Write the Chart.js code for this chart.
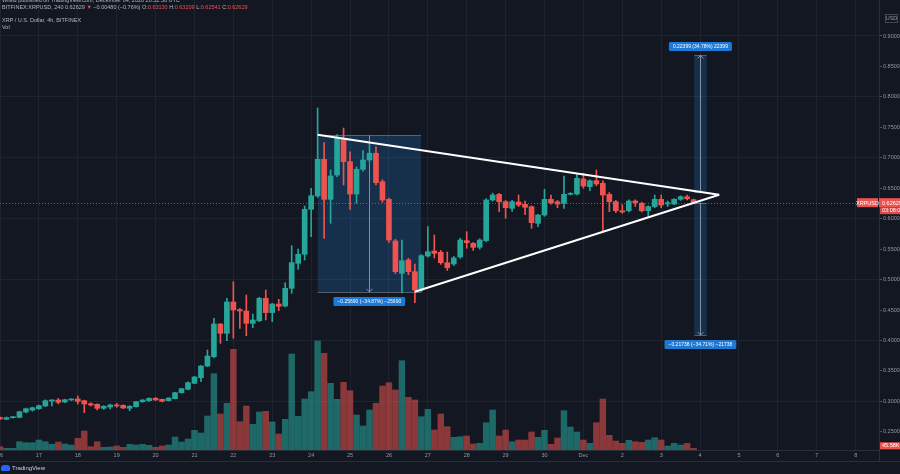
<!DOCTYPE html>
<html><head><meta charset="utf-8">
<script src="https://cdn.jsdelivr.net/npm/chart.js@4.4.0/dist/chart.umd.min.js"></script>
<style>
html,body{margin:0;padding:0;background:#131722;overflow:hidden}
#wrap{position:relative;width:900px;height:474px;background:#131722}
canvas{display:block}
.t{position:absolute;left:2px;font-family:"Liberation Sans",Arial,sans-serif;font-size:5.5px;color:#b2b5be;white-space:nowrap;line-height:1}
.r{color:#ef5350}
#logo{position:absolute;left:1px;top:465px;font-family:"Liberation Sans",Arial,sans-serif;font-size:6px;color:#d1d4dc;white-space:nowrap;line-height:1}
#logo i{display:inline-block;width:9px;height:6px;background:#2962ff;border-radius:3px 3px 1px 1px;vertical-align:-1px;margin-right:2px}
</style></head>
<body>
<div id="wrap">
<canvas id="c" width="900" height="474"></canvas>
<div class="t" style="top:-2px">Wilsid published on TradingView.com, December 04, 2020 20:52:56 UTC</div>
<div class="t" style="top:5px">BITFINEX:XRPUSD, 240 0.62629 <span class="r">▼</span> −0.00480 (−0.76%) O:<span class="r">0.63130</span> H:<span class="r">0.63209</span> L:<span class="r">0.62541</span> C:<span class="r">0.62629</span></div>
<div class="t" style="top:18px">XRP / U.S. Dollar, 4h, BITFINEX</div>
<div class="t" style="top:25px">Vol</div>
<div id="logo"><i></i>TradingView</div>
</div>
<script>
// ---- data (4h candles starting Nov 16 2020 00:00) ----
const dayLabels = ['16','17','18','19','20','21','22','23','24','25','26','27','28','29','30','Dec','2','3','4','5','6','7','8'];
const opens = [.2735,.2707,.2733,.2737,.2826,.2858,.2880,.2924,.3005,.3023,
.2990,.3023,.3040,.3012,.2962,.2952,.2887,.2908,.2941,.2936,
.2887,.2913,.2995,.3012,.3051,.3034,.3012,.3045,.3143,.3199,
.3297,.3389,.3581,.3734,.4271,.4118,.4632,.4506,.4484,.4282,
.4325,.4693,.4458,.4599,.4566,.4857,.5267,.5415,.6154,.6373,
.6975,.6318,.6717,.7320,.6936,.6405,.6811,.6964,.7074,.6608,
.6318,.5634,.5103,.5322,.5130,.4829,.5387,.5469,.5448,.5277,
.5256,.5371,.5639,.5596,.5530,.5640,.6307,.6400,.6279,.6170,
.6274,.6236,.6198,.5924,.6060,.6318,.6279,.6252,.6400,.6405,
.6652,.6526,.6624,.6581,.6400,.6279,.6131,.6131,.6290,.6252,
.6131,.6198,.6318,.6241,.6241,.6318,.6361,.6313];
const highs = [.2745,.2745,.2750,.2840,.2890,.2905,.2940,.3025,.3030,.3050,
.3035,.3045,.3089,.3020,.2978,.2960,.2930,.2957,.2969,.2945,
.2930,.3000,.3030,.3060,.3065,.3040,.3060,.3150,.3215,.3320,
.3410,.3590,.3844,.4364,.4280,.4693,.4966,.4529,.4747,.4435,
.4710,.4829,.4610,.4676,.4949,.5557,.5502,.6209,.6499,.7818,
.7248,.6800,.7380,.7489,.7100,.6850,.7117,.7264,.7182,.6640,
.6340,.5660,.5650,.5350,.5256,.5410,.5869,.5732,.5480,.5453,
.5380,.5680,.5787,.5610,.5670,.6330,.6420,.6417,.6300,.6300,
.6389,.6290,.6210,.6070,.6483,.6389,.6300,.6700,.6430,.6745,
.6745,.6640,.6800,.6620,.6430,.6300,.6230,.6310,.6310,.6270,
.6210,.6389,.6389,.6290,.6330,.6375,.6389,.63209];
const lows = [.2700,.2700,.2725,.2730,.2810,.2840,.2870,.2915,.2925,.2960,
.2980,.3015,.2957,.2815,.2925,.2859,.2870,.2875,.2903,.2880,
.2847,.2905,.2985,.3000,.3015,.2990,.3005,.3040,.3135,.3190,
.3290,.3324,.3570,.3720,.3954,.3997,.4036,.4200,.4079,.4210,
.4310,.4337,.4309,.4489,.4550,.4775,.5169,.5322,.5704,.6350,
.5678,.5924,.6690,.6553,.6154,.6253,.6780,.6940,.6553,.6270,
.5610,.5100,.4780,.5080,.4621,.4800,.5370,.5355,.5250,.5150,
.5230,.5350,.5514,.5480,.5500,.5620,.6290,.6115,.6007,.6120,
.6200,.6066,.5842,.5869,.6040,.6240,.6180,.6170,.6390,.6390,
.6500,.6460,.6540,.5787,.6115,.6100,.6090,.6110,.6200,.6110,
.6033,.6180,.6180,.6200,.6230,.6300,.6310,.62541];
const closes = [.2712,.2733,.2737,.2831,.2880,.2897,.2930,.3012,.3023,.2985,
.3028,.3034,.3001,.2958,.2941,.2887,.2920,.2941,.2925,.2892,
.2920,.2995,.3023,.3051,.3023,.3001,.3056,.3143,.3209,.3307,
.3401,.3581,.3745,.4271,.4118,.4632,.4501,.4484,.4282,.4337,
.4693,.4458,.4599,.4561,.4857,.5278,.5415,.6154,.6378,.6975,
.6318,.6701,.7320,.6936,.6405,.6811,.6964,.7074,.6591,.6307,
.5650,.5130,.5310,.5130,.4829,.5393,.5458,.5431,.5277,.5195,
.5355,.5650,.5606,.5530,.5650,.6307,.6389,.6279,.6181,.6279,
.6225,.6187,.5935,.6060,.6318,.6263,.6241,.6400,.6417,.6663,
.6537,.6624,.6570,.6389,.6279,.6131,.6110,.6290,.6263,.6131,
.6198,.6318,.6225,.6263,.6318,.6361,.6328,.62629];
const volumes = [3.3,1.7,1.7,8.3,7.3,7.3,10,8.3,5.7,8,
6,5,11.7,19,3.3,8.3,2.7,3,4,2.7,
5.7,5,5.7,4.7,2.7,4,5,13,8,11,
19.7,17,34,76.3,36,46.7,100.7,28.3,44,25.7,
38,38.7,28,16,30.7,96,33.7,51,58.3,109,
96.7,66.7,50.7,67.7,59.3,35,24,40,46.7,64,
67.3,60,89.3,52.7,50,33.3,40.7,20,36,23.3,
12.7,13.3,14,6,6.7,27.3,40,14,20,8.3,
10,10,18,12.7,19.7,5.7,12,39.3,23,18,
10,6.7,27.3,51,14.7,9,6.7,9.7,8.3,7.7,
10,12.3,10,4,6.7,5,6.7,1.7];
const priceTicks = [0.25,0.30,0.35,0.40,0.45,0.50,0.55,0.60,0.65,0.70,0.75,0.80,0.85,0.90];
const lastPrice = 0.62629;
const lastVolumeLabel = '45.58K';
// drawings (candle index, price)
const triangleUpper = [[49.0,0.7379],[110.95,0.6394]];
const triangleLower = [[64.0,0.4801],[110.95,0.6394]];
const rangeStart = [49.0,107.1,107.1];
const rangeEnd = [64.94,109.0,109.0];
const rangeFrom = [0.7367,0.6440,0.6263];
const rangeTo = [0.4798,0.8680,0.4089];
const rangeLabels = ['−0.25690 (−34.87%) −25690','0.22399 (34.78%) 22399','−0.21738 (−34.71%) −21738'];

// ---- build ----
const UP='#26a69a', DN='#ef5350';
const idx = opens.map((_,i)=>i);
const isUp = idx.map(i=>closes[i]>=opens[i]);
const bodyData = idx.map(i=>({x:i,y:[Math.min(opens[i],closes[i]),Math.max(opens[i],closes[i])]}));
const wickData = idx.map(i=>({x:i,y:[lows[i],highs[i]]}));
const volData = idx.map(i=>({x:i,y:volumes[i]}));
const cCol = isUp.map(u=>u?UP:DN);
const vCol = isUp.map(u=>u?'rgba(38,166,154,0.58)':'rgba(239,83,80,0.55)');
const FONT = '"Liberation Sans", Arial, sans-serif';
const GRID = '#1f2330';

const overlay = {
  id:'overlay',
  beforeDatasetsDraw(chart){
    const {ctx, chartArea:a, scales:{x,y}} = chart;
    ctx.save();
    ctx.beginPath(); ctx.rect(a.left,a.top,a.right-a.left,a.bottom-a.top); ctx.clip();
    for(let k=0;k<rangeStart.length;k++){
      const x0=x.getPixelForValue(rangeStart[k]), x1=x.getPixelForValue(rangeEnd[k]);
      const y0=y.getPixelForValue(rangeFrom[k]), y1=y.getPixelForValue(rangeTo[k]);
      ctx.fillStyle='rgba(33,150,243,0.2)';
      ctx.fillRect(x0,Math.min(y0,y1),x1-x0,Math.abs(y1-y0));
      ctx.strokeStyle='rgba(140,150,165,0.55)'; ctx.lineWidth=1;
      ctx.beginPath();
      ctx.moveTo(x0,Math.round(y0)+0.5); ctx.lineTo(x1,Math.round(y0)+0.5);
      ctx.moveTo(x0,Math.round(y1)+0.5); ctx.lineTo(x1,Math.round(y1)+0.5);
      ctx.stroke();
      const cx=Math.round((x0+x1)/2)+0.5, dir = y1>y0?1:-1;
      ctx.strokeStyle='rgba(170,176,188,0.75)';
      ctx.beginPath(); ctx.moveTo(cx,y0); ctx.lineTo(cx,y1);
      ctx.moveTo(cx-3,y1-3*dir); ctx.lineTo(cx,y1); ctx.lineTo(cx+3,y1-3*dir);
      ctx.stroke();
    }
    const py=Math.round(y.getPixelForValue(lastPrice))+0.5;
    ctx.strokeStyle='rgba(239,83,80,0.75)'; ctx.setLineDash([1,2]);
    ctx.beginPath(); ctx.moveTo(a.left,py); ctx.lineTo(a.right,py); ctx.stroke();
    ctx.restore();
  },
  afterDraw(chart){
    const {ctx, chartArea:a, scales:{x,y,v}} = chart;
    ctx.save();
    ctx.font='5px '+FONT; ctx.textBaseline='middle';
    for(let k=0;k<rangeStart.length;k++){
      const x0=x.getPixelForValue(rangeStart[k]), x1=x.getPixelForValue(rangeEnd[k]);
      const y0=y.getPixelForValue(rangeFrom[k]), y1=y.getPixelForValue(rangeTo[k]);
      const cx=(x0+x1)/2, cy = y1>y0 ? y1+9.5 : y1-9;
      const w=ctx.measureText(rangeLabels[k]).width+8;
      ctx.fillStyle='#1e78d6';
      ctx.beginPath(); ctx.roundRect(cx-w/2,cy-4.5,w,9,1.5); ctx.fill();
      ctx.fillStyle='#ffffff'; ctx.textAlign='center';
      ctx.fillText(rangeLabels[k],cx,cy+0.3);
    }
    ctx.font='5.5px '+FONT;
    ctx.strokeStyle='#2a2e39'; ctx.lineWidth=1;
    ctx.beginPath();
    ctx.moveTo(0,461.5); ctx.lineTo(900,461.5);
    ctx.moveTo(Math.round(a.right)+0.5,a.bottom); ctx.lineTo(Math.round(a.right)+0.5,461);
    ctx.stroke();
    const py=y.getPixelForValue(lastPrice);
    ctx.fillStyle='#ef5350';
    ctx.fillRect(a.right,py-4.5,900-a.right,9);
    ctx.fillRect(a.right-22,py-4.5,21,9);
    ctx.fillStyle='#d94a4d';
    ctx.fillRect(a.right+1,py+4.5,900-a.right,7);
    ctx.fillStyle='#ffffff'; ctx.textAlign='left';
    ctx.fillText(lastPrice.toFixed(5),a.right+3,py+0.3);
    ctx.fillText('03:08:07',a.right+3,py+8.2);
    ctx.textAlign='center';
    ctx.fillText('XRPUSD',a.right-11.5,py+0.3);
    const vy=v.getPixelForValue(volumes[volumes.length-1]);
    ctx.fillStyle='#ef5350';
    ctx.fillRect(a.right+1,vy-6,900-a.right,7);
    ctx.fillStyle='#ffffff'; ctx.textAlign='left';
    ctx.fillText(lastVolumeLabel,a.right+3,vy-2.4);
    ctx.strokeStyle='#434651'; ctx.strokeRect(a.right+6.5,14.5,12,8);
    ctx.fillStyle='#9598a1'; ctx.textAlign='center';
    ctx.fillText('USD',a.right+12.5,18.8);
    ctx.restore();
  }
};

new Chart(document.getElementById('c'),{
  type:'bar',
  data:{datasets:[
    {type:'line',data:triangleUpper.map(p=>({x:p[0],y:p[1]})),borderColor:'#ffffff',borderWidth:2,pointRadius:0,yAxisID:'y',order:0},
    {type:'line',data:triangleLower.map(p=>({x:p[0],y:p[1]})),borderColor:'#ffffff',borderWidth:2,pointRadius:0,yAxisID:'y',order:0},
    {data:bodyData,backgroundColor:cCol,barThickness:5,minBarLength:1,yAxisID:'y',grouped:false,order:1},
    {data:wickData,backgroundColor:cCol,barThickness:1,yAxisID:'y',grouped:false,order:2},
    {data:volData,backgroundColor:vCol,barThickness:5.8,yAxisID:'v',grouped:false,order:3}
  ]},
  options:{
    responsive:false,animation:false,devicePixelRatio:1,
    layout:{padding:{left:0,right:0,top:0,bottom:13},autoPadding:false},
    plugins:{legend:{display:false},tooltip:{enabled:false}},
    scales:{
      x:{type:'linear',min:0,max:135.6,offset:false,
        grid:{color:GRID,drawTicks:false,offset:false},
        border:{color:'#2a2e39'},
        ticks:{autoSkip:false,maxRotation:0,padding:2,color:'#9598a1',font:{size:5.5,family:FONT},
          callback:(val)=>dayLabels[Math.round(val/6)]},
        afterBuildTicks:(s)=>{s.ticks=dayLabels.map((d,k)=>({value:k*6}));},
        afterFit:(s)=>{s.height=11;s.paddingLeft=0;s.paddingRight=0;}
      },
      y:{type:'linear',position:'right',min:0.2202,max:0.9591,
        grid:{color:(c)=>{const t=c.tick&&c.tick.value; return (t!==undefined && Math.abs(t*10-Math.round(t*10))<1e-6)?GRID:'rgba(0,0,0,0)';},
          tickColor:'#50535e',tickLength:3,drawTicks:true},
        border:{color:'#2a2e39'},
        ticks:{padding:1,color:'#9598a1',font:{size:5.5,family:FONT},callback:(val)=>Number(val).toFixed(5)},
        afterBuildTicks:(s)=>{s.ticks=priceTicks.map(p=>({value:p}));},
        afterFit:(s)=>{s.width=21;s.paddingTop=0;s.paddingBottom=0;}
      },
      v:{type:'linear',display:false,min:0,max:450}
    }
  },
  plugins:[overlay]
});
</script>
</body></html>
